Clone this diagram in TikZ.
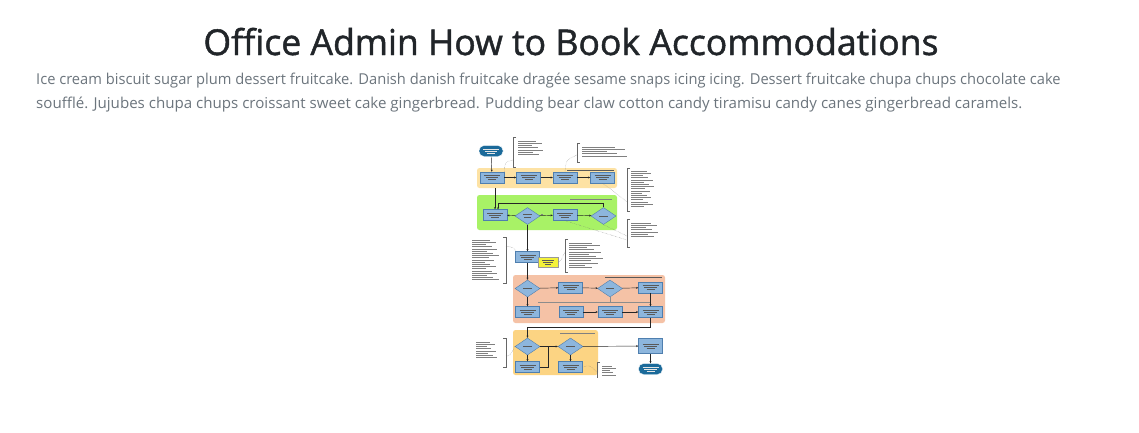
\documentclass[tikz,border=0pt]{standalone}
\usepackage{fontspec}
\setmainfont{Open Sans}
\newfontfamily\titlefont[FakeBold=1.3]{Open Sans}
\usetikzlibrary{shapes.geometric,arrows.meta}
\definecolor{titlec}{HTML}{212529}
\definecolor{parac}{HTML}{6C757D}
\definecolor{boxf}{HTML}{8DB6DD}
\definecolor{boxd}{HTML}{4F7FAF}
\definecolor{termf}{HTML}{1B6A9A}
\definecolor{bandA}{HTML}{FDE2A4}
\definecolor{bandG}{HTML}{A8F266}
\definecolor{bandS}{HTML}{F5C2A6}
\definecolor{bandB}{HTML}{FCD483}
\definecolor{notey}{HTML}{F4F23A}
\tikzset{
  proc/.style={rectangle,draw=boxd,fill=boxf,line width=0.4pt,minimum width=24pt,minimum height=11pt,inner sep=0pt},
  dec/.style={diamond,draw=boxd,fill=boxf,line width=0.4pt,minimum width=25pt,minimum height=17pt,inner sep=0pt,aspect=1.5},
  term/.style={rectangle,rounded corners=5pt,draw=white,fill=termf,line width=0.4pt,minimum width=24pt,minimum height=11pt,inner sep=0pt},
  band/.style={rectangle,rounded corners=2.5pt,inner sep=0pt},
  flow/.style={draw=black!85,line width=0.45pt,-{Stealth[length=2.2pt,width=2pt]}},
  flowl/.style={draw=black!85,line width=0.45pt},
  notel/.style={draw=black!60,line width=0.35pt},
  curvel/.style={draw=black!55,line width=0.35pt,densely dotted},
  txtl/.style={draw=black!50,line width=0.55pt},
  boxtxt/.style={draw=black!65,line width=0.5pt},
  wtxt/.style={draw=white!90!black,line width=0.5pt},
}
\newcommand{\fakelines}[5]{% x y n maxwidth style
  \foreach \i in {1,...,#3}{\pgfmathsetmacro{\ww}{#4*(0.45+0.55*mod(\i*37,11)/11)}\draw[#5] (#1,#2+\i*2.2-2.2) -- ++(\ww,0);}}
\newcommand{\boxlines}[4]{% center x, center y, halfwidth, style
  \draw[#4] (#1-#3,#2-1.8) -- (#1+#3,#2-1.8);
  \draw[#4] (#1-#3*0.8,#2) -- (#1+#3*0.8,#2);
  \draw[#4] (#1-#3*0.5,#2+1.8) -- (#1+#3*0.5,#2+1.8);}
\begin{document}
\begin{tikzpicture}[x=1pt,y=-1pt]
\useasboundingbox[fill=white] (0,0) rectangle (1139,432);
% title and paragraph
\node[anchor=base,text=titlec,font=\titlefont\fontsize{35.6}{42}\selectfont,inner sep=0] (title) at (571,55) {Office Admin How to Book Accommodations};
\node[anchor=base west,text=parac,font=\fontsize{15}{18}\selectfont,inner sep=0] (p1) at (36,84) {\scalebox{0.978}[1]{Ice cream biscuit sugar plum dessert fruitcake. Danish danish fruitcake dragée sesame snaps icing icing. Dessert fruitcake chupa chups chocolate cake}};
\node[anchor=base west,text=parac,font=\fontsize{15}{18}\selectfont,inner sep=0] (p2) at (36,108) {\scalebox{1.007}[1]{soufflé. Jujubes chupa chups croissant sweet cake gingerbread. Pudding bear claw cotton candy tiramisu candy canes gingerbread caramels.}};
% bands
\node[band,fill=bandA,minimum width=140pt,minimum height=20pt] (bandA) at (547,178) {};
\node[band,fill=bandG,minimum width=140pt,minimum height=35pt] (bandG) at (547,212.5) {};
\node[band,fill=bandS,minimum width=152pt,minimum height=48pt] (bandS) at (589,299) {};
\node[band,fill=bandB,minimum width=85pt,minimum height=45pt] (bandB) at (555.5,352.5) {};
% band header lines
\draw[boxtxt] (567,170) -- (614,170);
\draw[txtl] (570,199) -- (612,199);
\draw[boxtxt] (605,277.5) -- (662,277.5);
\draw[txtl] (560,333) -- (595,333);
% row A
\node[term] (start) at (491,151) {};
\boxlines{491}{151}{8}{wtxt}
\node[proc] (a1) at (492,177.5) {};
\node[proc] (a2) at (528.5,177.5) {};
\node[proc] (a3) at (565,177.5) {};
\node[proc] (a4) at (602.5,177.5) {};
\foreach \c/\x in {a1/492,a2/528.5,a3/565,a4/602.5}{\boxlines{\x}{177.5}{8}{boxtxt}}
\draw[flow] (start) -- (a1);
\draw[flow] (a1) -- (a2);
\draw[flow] (a2) -- (a3);
\draw[flow] (a3) -- (a4);
% green row
\node[proc] (g1) at (495,215) {};
\node[dec] (d1) at (527.5,216) {};
\node[proc] (g2) at (565,215) {};
\node[dec] (d2) at (603.5,216) {};
\foreach \x in {495,565}{\boxlines{\x}{215}{8}{boxtxt}}
\draw[boxtxt] (523,214.5) -- (532,214.5); \draw[boxtxt] (524,217) -- (531,217);
\draw[boxtxt] (599,216) -- (608,216);
\coordinate (ga) at (495,188);
\draw[flow] (ga) -- (g1);
\draw[flow] (d1) -- (g1);
\draw[flow] (d1) -- (g2);
\draw[flow] (g2) -- (d2);
\coordinate (lp1) at (603.5,203);
\coordinate (lp2) at (498,203);
\draw[flowl] (d2.north) -- (lp1) -- (lp2);
\draw[flow] (lp2) -- (498,209.5);
\draw[txtl] (541,214) -- (543,214);
% middle
\node[proc] (pm) at (527.5,257) {};
\boxlines{527.5}{257}{8}{boxtxt}
\node[rectangle,fill=notey,draw=black!40,line width=0.3pt,minimum width=20pt,minimum height=10pt,inner sep=0] (yn) at (548,262) {};
\boxlines{548}{262}{6}{boxtxt}
\draw[flow] (d1) -- (pm);
% salmon rows
\node[dec] (s1) at (527.5,288.5) {};
\node[proc] (sb1) at (570.5,287.5) {};
\node[dec] (s2) at (610,288.5) {};
\node[proc] (sb2) at (650.5,287.5) {};
\node[proc] (r1) at (527.5,312) {};
\node[proc] (r2) at (571,312) {};
\node[proc] (r3) at (610,312) {};
\node[proc] (r4) at (650.5,312) {};
\foreach \x in {570.5,650.5}{\boxlines{\x}{287.5}{8}{boxtxt}}
\foreach \x in {527.5,571,610,650.5}{\boxlines{\x}{312}{8}{boxtxt}}
\draw[boxtxt] (523,288.5) -- (532,288.5); \draw[boxtxt] (606,288.5) -- (614,288.5);
\draw[flow] (pm) -- (s1);
\draw[flow] (s1) -- (sb1);
\draw[flow] (sb1) -- (s2);
\draw[flow] (s2) -- (sb2);
\draw[flow] (s1) -- (r1);
\draw[flow] (r2) -- (r3);
\draw[flow] (r3) -- (r4);
\coordinate (hs1) at (538,302);
\coordinate (hs2) at (650.5,302);
\draw[flowl,draw=black!45] (hs1) -- (hs2);
\draw[flowl,draw=black!45] (s2.south) -- (610,302);
\draw[flow] (sb2) -- (r4);
\coordinate (b1) at (650.5,327);
\coordinate (b2) at (527.5,327);
\draw[flowl] (r4) -- (b1) -- (b2);
% bottom band
\node[dec] (o1) at (527.5,346.5) {};
\node[dec] (o2) at (570.5,346.5) {};
\node[proc] (ob1) at (527.5,367) {};
\node[proc] (ob2) at (570.5,367) {};
\node[proc,minimum height=15pt] (oc) at (650.5,346) {};
\node[term] (endt) at (650.5,369) {};
\boxlines{650.5}{346}{8}{boxtxt}
\boxlines{527.5}{367}{8}{boxtxt}
\boxlines{570.5}{367}{8}{boxtxt}
\boxlines{650.5}{369}{8}{wtxt}
\draw[boxtxt] (523,346.5) -- (532,346.5); \draw[boxtxt] (566,346.5) -- (575,346.5);
\draw[flow] (b2) -- (o1);
\draw[flow] (o1) -- (o2);
\draw[flow] (o2) -- (oc);
\draw[flow] (o1) -- (ob1);
\coordinate (ob1r) at (548,367);
\draw[flowl] (ob1) -- (ob1r) -- (548,346.5);
\draw[flow] (o2) -- (ob2);
\draw[flow] (oc) -- (endt);
% notes
\draw[notel] (516,137) -- (513,137) -- (513,167) -- (516,167);
\fakelines{518}{141}{7}{28}{txtl}
\draw[notel] (580,143) -- (577,143) -- (577,162) -- (580,162);
\fakelines{582}{147}{5}{50}{txtl}
\draw[notel] (630,168) -- (627,168) -- (627,211) -- (630,211);
\fakelines{631}{171}{17}{24}{txtl}
\draw[notel] (630,219) -- (627,219) -- (627,247) -- (630,247);
\fakelines{631}{223}{7}{30}{txtl}
\draw[notel] (503,237) -- (506,237) -- (506,283) -- (503,283);
\fakelines{472}{240}{19}{28}{txtl}
\draw[notel] (568,239) -- (565,239) -- (565,272) -- (568,272);
\fakelines{569}{243}{12}{36}{txtl}
\draw[notel] (503,338) -- (506,338) -- (506,367) -- (503,367);
\fakelines{476}{342}{8}{22}{txtl}
\draw[notel] (600,362) -- (597,362) -- (597,378);
\fakelines{602}{366}{5}{16}{txtl}
% note connectors
\draw[curvel] (513,160) .. controls (505,162) .. (a1.north east);
\draw[curvel] (577,155) .. controls (566,160) .. (a3.north);
\draw[curvel] (a4.south) .. controls (612,190) .. (627,202);
\draw[curvel] (g2.south) -- (627,240);
\draw[curvel] (d2.south) -- (627,236);
\draw[curvel] (506,246) .. controls (515,248) .. (pm.north west);
\draw[curvel] (565,252) .. controls (560,262) .. (yn.east);
\draw[curvel] (506,356) .. controls (510,356) .. (o1.west);
\draw[curvel] (597,372) .. controls (590,365) .. (ob2.east);
\end{tikzpicture}
\end{document}
